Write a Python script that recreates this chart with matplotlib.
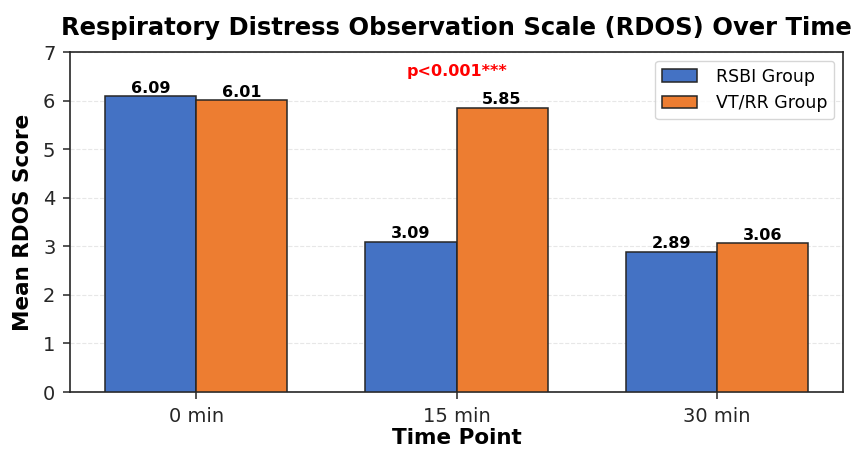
import numpy as np
import matplotlib.pyplot as plt

# data
time_points = ['0 min', '15 min', '30 min']
rsbi_scores = [6.09, 3.09, 2.89]
vtrr_scores = [6.01, 5.85, 3.06]

BAR_W = 0.35
BLUE = '#4472C4'
ORANGE = '#ED7D31'
DARK = '#262626'

fig, ax = plt.subplots(figsize=(8.55, 4.5), dpi=100)
fig.subplots_adjust(left=70 / 855, right=843 / 855, top=1 - 52 / 450, bottom=1 - 392 / 450)

x = np.arange(len(time_points))
b1 = ax.bar(x - BAR_W / 2, rsbi_scores, BAR_W, color=BLUE, edgecolor=DARK,
            linewidth=1.1, label='RSBI Group', zorder=3)
b2 = ax.bar(x + BAR_W / 2, vtrr_scores, BAR_W, color=ORANGE, edgecolor=DARK,
            linewidth=1.1, label='VT/RR Group', zorder=3)

# value labels on top of bars
for bars in (b1, b2):
    for bar in bars:
        h = bar.get_height()
        ax.text(bar.get_x() + bar.get_width() / 2, h + 0.01, f'{h:.2f}',
                ha='center', va='bottom', fontsize=11.5, fontweight='bold')

ax.text(x[1], 6.6, 'p<0.001***', ha='center', va='center', color='red',
        fontsize=11.5, fontweight='bold')

ax.set_ylim(0, 7)
ax.set_xticks(x)
ax.set_xticklabels(time_points)
ax.tick_params(axis='both', labelsize=14, colors=DARK, width=1.1, length=5, pad=5.5)
for sp in ax.spines.values():
    sp.set_color(DARK)
    sp.set_linewidth(1.2)
ax.set_xlabel('Time Point', fontsize=15.5, fontweight='bold', labelpad=2)
ax.set_ylabel('Mean RDOS Score', fontsize=15.5, fontweight='bold', labelpad=7)
ax.set_title('Respiratory Distress Observation Scale (RDOS) Over Time',
             fontsize=17.5, fontweight='bold', pad=12)
ax.grid(axis='y', linestyle='--', alpha=0.3, zorder=0)
ax.legend(loc='upper right', fontsize=12.5, borderaxespad=0.5, handletextpad=1.1)

fig.savefig('out.png', dpi=100)
